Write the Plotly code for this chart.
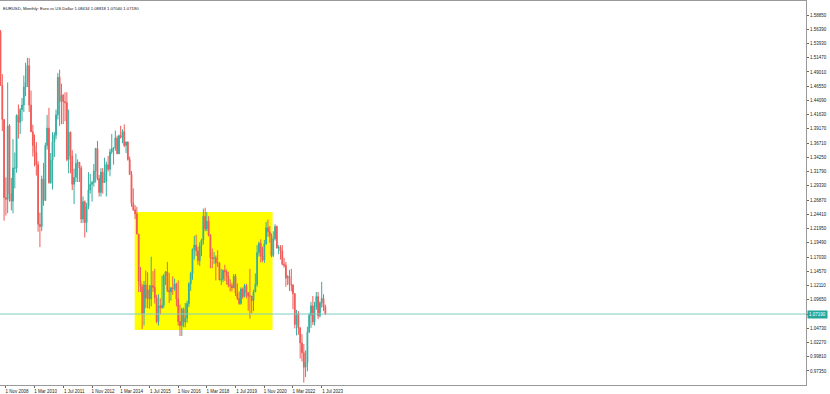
import datetime as dt
import pandas as pd
import plotly.graph_objects as go

# ---- data: EURUSD monthly, Aug 2008 .. Sep 2023 ----
opens = [
    1.5600, 1.4670, 1.4080, 1.2730, 1.2700,
    1.3970, 1.2800, 1.2670, 1.3240, 1.3240, 1.4150, 1.4030, 1.4250, 1.4330, 1.4640, 1.4720, 1.5010,
    1.4330, 1.3870, 1.3630, 1.3510, 1.3300, 1.2270, 1.2230, 1.3050, 1.2680, 1.3630, 1.3930, 1.2990,
    1.3380, 1.3690, 1.3810, 1.4160, 1.4810, 1.4390, 1.4500, 1.4390, 1.4370, 1.3390, 1.3860, 1.3450,
    1.2960, 1.3080, 1.3320, 1.3340, 1.3240, 1.2360, 1.2660, 1.2300, 1.2580, 1.2860, 1.2960, 1.2990,
    1.3190, 1.3580, 1.3060, 1.2820, 1.3170, 1.2990, 1.3010, 1.3300, 1.3220, 1.3520, 1.3580, 1.3590,
    1.3760, 1.3490, 1.3800, 1.3770, 1.3870, 1.3630, 1.3690, 1.3390, 1.3130, 1.2630, 1.2520, 1.2450,
    1.2100, 1.1290, 1.1190, 1.0730, 1.1220, 1.0990, 1.1140, 1.0980, 1.1210, 1.1180, 1.1000, 1.0590,
    1.0860, 1.0830, 1.0870, 1.1380, 1.1450, 1.1130, 1.1100, 1.1170, 1.1160, 1.1240, 1.0980, 1.0590,
    1.0520, 1.0800, 1.0580, 1.0650, 1.0900, 1.1240, 1.1420, 1.1840, 1.1910, 1.1810, 1.1640, 1.1900,
    1.2000, 1.2410, 1.2190, 1.2320, 1.2080, 1.1690, 1.1680, 1.1690, 1.1600, 1.1600, 1.1310, 1.1320,
    1.1470, 1.1450, 1.1370, 1.1220, 1.1210, 1.1170, 1.1370, 1.1080, 1.0990, 1.0900, 1.1150, 1.1020,
    1.1210, 1.1090, 1.1030, 1.1030, 1.0950, 1.1100, 1.1230, 1.1780, 1.1940, 1.1720, 1.1650, 1.1930,
    1.2210, 1.2140, 1.2070, 1.1730, 1.2020, 1.2230, 1.1860, 1.1870, 1.1810, 1.1580, 1.1560, 1.1340,
    1.1370, 1.1230, 1.1220, 1.1070, 1.0540, 1.0730, 1.0480, 1.0220, 1.0050, 0.9800, 0.9880, 1.0410,
    1.0700, 1.0860, 1.0580, 1.0840, 1.1020, 1.0690, 1.0910, 1.0990, 1.0843,
]
highs = [
    1.5625, 1.4865, 1.4080, 1.3080, 1.4720,
    1.4000, 1.3070, 1.3740, 1.3510, 1.4170, 1.4340, 1.4280, 1.4450, 1.4840, 1.5060, 1.5145, 1.5140,
    1.4580, 1.3990, 1.3820, 1.3690, 1.3360, 1.2470, 1.3110, 1.3330, 1.3680, 1.4160, 1.4280, 1.3500,
    1.3860, 1.3860, 1.4250, 1.4880, 1.4940, 1.4700, 1.4520, 1.4550, 1.4550, 1.4250, 1.3870, 1.3550,
    1.3230, 1.3490, 1.3390, 1.3290, 1.3280, 1.2750, 1.2680, 1.2640, 1.3170, 1.3140, 1.3020, 1.3310,
    1.3590, 1.3710, 1.3120, 1.3240, 1.3240, 1.3420, 1.3350, 1.3450, 1.3570, 1.3830, 1.3600, 1.3890,
    1.3800, 1.3820, 1.3970, 1.3910, 1.3995, 1.3700, 1.3700, 1.3440, 1.3190, 1.2890, 1.2600, 1.2570,
    1.2100, 1.1530, 1.1240, 1.1290, 1.1470, 1.1440, 1.1220, 1.1710, 1.1460, 1.1500, 1.1050, 1.1060,
    1.0990, 1.1380, 1.1410, 1.1460, 1.1620, 1.1430, 1.1190, 1.1370, 1.1330, 1.1260, 1.1300, 1.0880,
    1.0830, 1.0830, 1.0910, 1.0950, 1.1270, 1.1450, 1.1850, 1.2070, 1.2090, 1.1880, 1.1960, 1.2020,
    1.2540, 1.2555, 1.2480, 1.2410, 1.2100, 1.1850, 1.1790, 1.1730, 1.1820, 1.1620, 1.1500, 1.1490,
    1.1570, 1.1490, 1.1450, 1.1320, 1.1260, 1.1410, 1.1410, 1.1250, 1.1110, 1.1180, 1.1180, 1.1240,
    1.1240, 1.1050, 1.1500, 1.1000, 1.1140, 1.1420, 1.1910, 1.1970, 1.2010, 1.1880, 1.2000, 1.2310,
    1.2350, 1.2240, 1.2110, 1.2150, 1.2270, 1.2250, 1.1910, 1.1910, 1.1910, 1.1690, 1.1620, 1.1390,
    1.1480, 1.1500, 1.1230, 1.1080, 1.0790, 1.0770, 1.0490, 1.0370, 1.0200, 1.0090, 1.0500, 1.0740,
    1.0930, 1.1030, 1.0930, 1.1100, 1.1100, 1.0940, 1.1275, 1.1060, 1.0882,
]
lows = [
    1.4660, 1.3880, 1.2330, 1.2420, 1.2460,
    1.2660, 1.2510, 1.2460, 1.2890, 1.3160, 1.3750, 1.3830, 1.4050, 1.4210, 1.4480, 1.4640, 1.4210,
    1.3860, 1.3440, 1.3270, 1.3110, 1.2140, 1.1875, 1.2150, 1.2590, 1.2690, 1.3560, 1.2970, 1.2970,
    1.2870, 1.3430, 1.3740, 1.4080, 1.3970, 1.4000, 1.4000, 1.4050, 1.3360, 1.3150, 1.3150, 1.2860,
    1.2620, 1.3000, 1.3000, 1.3000, 1.2290, 1.2290, 1.2040, 1.2130, 1.2530, 1.2800, 1.2660, 1.2920,
    1.2990, 1.3030, 1.2750, 1.2750, 1.2800, 1.2990, 1.2750, 1.3180, 1.3100, 1.3480, 1.3300, 1.3540,
    1.3480, 1.3480, 1.3750, 1.3670, 1.3600, 1.3500, 1.3370, 1.3130, 1.2570, 1.2500, 1.2360, 1.2100,
    1.1100, 1.1100, 1.0460, 1.0520, 1.0820, 1.0820, 1.0810, 1.0850, 1.1100, 1.0900, 1.0560, 1.0520,
    1.0710, 1.0810, 1.0820, 1.1220, 1.1100, 1.0910, 1.0950, 1.1050, 1.1120, 1.0850, 1.0520, 1.0340,
    1.0340, 1.0490, 1.0490, 1.0570, 1.0840, 1.1120, 1.1310, 1.1660, 1.1720, 1.1570, 1.1550, 1.1720,
    1.1920, 1.2150, 1.2150, 1.2060, 1.1510, 1.1510, 1.1580, 1.1300, 1.1530, 1.1300, 1.1220, 1.1270,
    1.1290, 1.1230, 1.1180, 1.1110, 1.1110, 1.1180, 1.1030, 1.0960, 1.0880, 1.0880, 1.0980, 1.1010,
    1.0990, 1.0780, 1.0640, 1.0730, 1.0770, 1.1100, 1.1190, 1.1710, 1.1610, 1.1620, 1.1600, 1.1920,
    1.2050, 1.1950, 1.1700, 1.1700, 1.1990, 1.1850, 1.1750, 1.1660, 1.1560, 1.1520, 1.1190, 1.1220,
    1.1120, 1.1110, 1.0800, 1.0470, 1.0350, 1.0360, 0.9950, 0.9900, 0.9535, 0.9630, 0.9730, 1.0390,
    1.0480, 1.0530, 1.0520, 1.0790, 1.0630, 1.0660, 1.0830, 1.0770, 1.0704,
]
closes = [
    1.4670, 1.4080, 1.2730, 1.2700, 1.3970,
    1.2800, 1.2670, 1.3240, 1.3240, 1.4150, 1.4030, 1.4250, 1.4330, 1.4640, 1.4720, 1.5010, 1.4330,
    1.3870, 1.3630, 1.3510, 1.3300, 1.2270, 1.2230, 1.3050, 1.2680, 1.3630, 1.3930, 1.2990, 1.3380,
    1.3690, 1.3810, 1.4160, 1.4810, 1.4390, 1.4500, 1.4390, 1.4370, 1.3390, 1.3860, 1.3450, 1.2960,
    1.3080, 1.3320, 1.3340, 1.3240, 1.2360, 1.2660, 1.2300, 1.2580, 1.2860, 1.2960, 1.2990, 1.3190,
    1.3580, 1.3060, 1.2820, 1.3170, 1.2990, 1.3010, 1.3300, 1.3220, 1.3520, 1.3580, 1.3590, 1.3760,
    1.3490, 1.3800, 1.3770, 1.3870, 1.3630, 1.3690, 1.3390, 1.3130, 1.2630, 1.2520, 1.2450, 1.2100,
    1.1290, 1.1190, 1.0730, 1.1220, 1.0990, 1.1140, 1.0980, 1.1210, 1.1180, 1.1000, 1.0590, 1.0860,
    1.0830, 1.0870, 1.1380, 1.1450, 1.1130, 1.1100, 1.1170, 1.1160, 1.1240, 1.0980, 1.0590, 1.0520,
    1.0800, 1.0580, 1.0650, 1.0900, 1.1240, 1.1420, 1.1840, 1.1910, 1.1810, 1.1640, 1.1900, 1.2000,
    1.2410, 1.2190, 1.2320, 1.2080, 1.1690, 1.1680, 1.1690, 1.1600, 1.1600, 1.1310, 1.1320, 1.1470,
    1.1450, 1.1370, 1.1220, 1.1210, 1.1170, 1.1370, 1.1080, 1.0990, 1.0900, 1.1150, 1.1020, 1.1210,
    1.1090, 1.1030, 1.1030, 1.0950, 1.1100, 1.1230, 1.1780, 1.1940, 1.1720, 1.1650, 1.1930, 1.2210,
    1.2140, 1.2070, 1.1730, 1.2020, 1.2230, 1.1860, 1.1870, 1.1810, 1.1580, 1.1560, 1.1340, 1.1370,
    1.1230, 1.1220, 1.1070, 1.0540, 1.0730, 1.0480, 1.0220, 1.0050, 0.9800, 0.9880, 1.0410, 1.0700,
    1.0860, 1.0580, 1.0840, 1.1020, 1.0690, 1.0910, 1.0990, 1.0840, 1.0719,
]
first_month = "2008-08-01"
months = pd.date_range(first_month, periods=len(closes), freq="MS")

x_tick_dates = ["2008-11-01", "2010-03-01", "2011-07-01", "2012-11-01", "2014-03-01", "2015-07-01",
                "2016-11-01", "2018-03-01", "2019-07-01", "2020-11-01", "2022-03-01", "2023-07-01"]
x_tick_text = ["1 Nov 2008", "1 Mar 2010", "1 Jul 2011", "1 Nov 2012", "1 Mar 2014", "1 Jul 2015",
               "1 Nov 2016", "1 Mar 2018", "1 Jul 2019", "1 Nov 2020", "1 Mar 2022", "1 Jul 2023"]
y_tick_vals = [0.97350, 0.99810, 1.02270, 1.04730, 1.07190, 1.09650, 1.12110, 1.14570, 1.17030,
               1.19490, 1.21950, 1.24410, 1.26870, 1.29330, 1.31790, 1.34250, 1.36710, 1.39170,
               1.41630, 1.44090, 1.46550, 1.49010, 1.51470, 1.53930, 1.56390, 1.58850]
y_tick_text = [f"{v:.5f}" for v in y_tick_vals]

current_price = 1.07190
title_text = "EURUSD, Monthly: Euro vs US Dollar 1.08434 1.08818 1.07040 1.07190"
box_start, box_end = "2014-10-25", "2021-03-20"
box_low, box_high = 1.0442, 1.2481

# ---- figure ----
W, H = 830, 394
plot_w = 806
px_per_day = 1.795 / 30.44
x_start = dt.date(2008, 7, 24)
x_end = x_start + dt.timedelta(days=plot_w / px_per_day)

bull, bear = "#34aea0", "#f05b58"
fig = go.Figure()
fig.add_trace(go.Candlestick(
    x=months, open=opens, high=highs, low=lows, close=closes,
    increasing=dict(line=dict(color=bull, width=1), fillcolor=bull),
    decreasing=dict(line=dict(color=bear, width=1), fillcolor=bear),
    whiskerwidth=0, showlegend=False, hoverinfo="skip",
))

fig.add_shape(type="rect", xref="x", yref="y", x0=box_start, x1=box_end, y0=box_low, y1=box_high,
              fillcolor="#ffff00", line=dict(width=0), layer="below")
fig.add_shape(type="line", xref="paper", yref="y", x0=0, x1=1, y0=current_price, y1=current_price,
              line=dict(color="#7fcdc4", width=1), layer="above")

fig.add_annotation(xref="paper", yref="y", x=1.0, y=current_price, xanchor="left", yanchor="middle",
                   xshift=1, text=f"{current_price:.5f}", showarrow=False,
                   font=dict(size=4.5, color="white", family="Liberation Sans"),
                   bgcolor="#26a69a", borderpad=1)
fig.add_annotation(xref="paper", yref="paper", x=0, y=1, xanchor="left", yanchor="top",
                   xshift=1, yshift=-3, text=title_text, showarrow=False,
                   font=dict(size=4.2, color="#111111", family="Liberation Sans"))

fig.update_layout(
    width=W, height=H,
    margin=dict(l=0, r=W - plot_w, t=1, b=9, pad=0),
    paper_bgcolor="white", plot_bgcolor="white",
    font=dict(family="Liberation Sans", size=4.5, color="#222222"),
    xaxis=dict(type="date", range=[x_start.isoformat(), x_end.isoformat()],
               rangeslider=dict(visible=False), showgrid=False, zeroline=False,
               tickvals=x_tick_dates, ticktext=x_tick_text, ticks="outside", ticklen=2,
               tickcolor="#666666", tickfont=dict(size=4.5), ticklabelshift=11,
               showline=True, linecolor="#999999", linewidth=1, mirror=True),
    yaxis=dict(range=[0.9493, 1.6127], side="right", showgrid=False, zeroline=False,
               tickvals=y_tick_vals, ticktext=y_tick_text, ticks="outside", ticklen=2,
               tickcolor="#666666", tickfont=dict(size=4.5),
               showline=True, linecolor="#999999", linewidth=1),
)

fig.write_html("out.html")
